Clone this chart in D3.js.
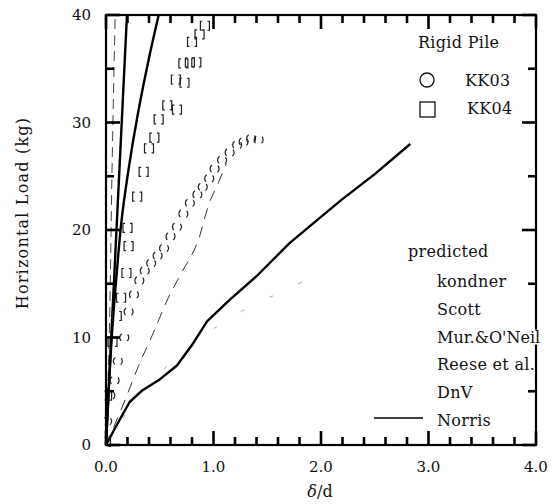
<!DOCTYPE html>
<html>
<head>
<meta charset="utf-8">
<script src="https://cdn.jsdelivr.net/npm/d3@7"></script>
<style>
  body { margin: 0; background: #fff; }
  text { font-family: "DejaVu Serif", "Liberation Serif", serif; fill: #111; }
</style>
</head>
<body>
<svg id="chart" width="554" height="504"></svg>
<script>
// ---- axis ticks ----
const xMajorTicks = [0, 1, 2, 3, 4];
const xTickLabels = ["0.0", "1.0", "2.0", "3.0", "4.0"];
const yMajorTicks = [0, 10, 20, 30, 40];
const yTickLabels = ["0", "10", "20", "30", "40"];
const xMinorTicks = [0.2, 0.4, 0.6, 0.8, 1.2, 1.4, 1.6, 1.8, 2.2, 2.4, 2.6, 2.8, 3.2, 3.4, 3.6, 3.8];
const yMinorTicks = [5, 15, 25, 35];

// ---- measured load tests (δ/d, load kg) ----
const kk03X = [0.00, 0.01, 0.04, 0.08, 0.11, 0.17, 0.21, 0.26, 0.31, 0.36, 0.42, 0.48, 0.54, 0.60,
               0.66, 0.72, 0.78, 0.85, 0.90, 0.96, 1.01, 1.08, 1.15, 1.22, 1.28, 1.35, 1.42];
const kk03Y = [0.2, 2.2, 4.6, 6.0, 7.8, 10.0, 12.4, 14.0, 15.3, 16.2, 16.9, 17.6, 18.3, 19.4,
               20.3, 21.5, 22.5, 23.3, 24.0, 24.8, 25.7, 26.5, 27.2, 27.9, 28.2, 28.5, 28.4];

const kk04X = [0.00, 0.01, 0.06, 0.10, 0.14, 0.19, 0.21, 0.20, 0.29, 0.35, 0.40, 0.45, 0.49,
               0.57, 0.66, 0.65, 0.73, 0.72, 0.78, 0.84, 0.80, 0.87, 0.92];
const kk04Y = [0.3, 4.6, 9.6, 12.0, 13.7, 16.0, 18.5, 20.2, 23.1, 25.4, 27.6, 28.6, 30.3,
               31.6, 31.2, 34.0, 33.7, 35.5, 35.6, 35.6, 37.5, 38.2, 39.0];

// ---- predicted curves ----
const kondnerX = [0, 0.03, 0.06, 0.10, 0.146, 0.20, 0.30, 0.40, 0.49];
const kondnerY = [0, 6, 11, 16, 21, 25, 31, 36, 40];

const scottX = [0, 0.195];
const scottY = [0, 40];

const murX = [0, 0.03, 0.055, 0.085];
const murY = [0, 10, 25, 40];

const reeseX = [0, 0.3, 0.7, 1.0, 1.4, 1.65, 1.9];
const reeseY = [0, 4.5, 8.5, 10.8, 13.2, 14.3, 15.6];

const dnvX = [0, 0.19, 0.30, 0.43, 0.58, 0.69, 0.87, 0.95, 1.05, 1.12];
const dnvY = [0, 4.5, 7.3, 10.2, 13.7, 15.8, 19.4, 22.2, 24.5, 26.2];

const norrisX = [0, 0.07, 0.13, 0.22, 0.34, 0.50, 0.66, 0.80, 0.94, 1.15, 1.40, 1.71, 2.19, 2.50, 2.83];
const norrisY = [0, 1.3, 2.4, 4.0, 5.1, 6.1, 7.4, 9.3, 11.5, 13.5, 15.7, 18.8, 22.8, 25.2, 28.0];

const predictedNames = ["kondner", "Scott", "Mur.&O'Neil", "Reese et al.", "DnV", "Norris"];

// ---- layout ----
const svg = d3.select("#chart");
const x = d3.scaleLinear().domain([0, 4]).range([106, 536]);
const y = d3.scaleLinear().domain([0, 40]).range([445, 15]);
const zip = (xs, ys) => xs.map((v, i) => [v, ys[i]]);

svg.append("clipPath").attr("id", "clip")
  .append("rect").attr("x", 104).attr("y", 14).attr("width", 434).attr("height", 433);

const straight = d3.line().x(d => x(d[0])).y(d => y(d[1])).curve(d3.curveLinear);
const smoothX = d3.line().x(d => x(d[0])).y(d => y(d[1])).curve(d3.curveMonotoneX);
const smoothY = d3.line().x(d => x(d[0])).y(d => y(d[1])).curve(d3.curveMonotoneY);

const curves = [
  { pts: zip(reeseX, reeseY), gen: smoothX, stroke: "#aaa", width: 1, dash: "4 28" },
  { pts: zip(dnvX, dnvY), gen: smoothX, stroke: "#333", width: 1, dash: "11 8" },
  { pts: zip(murX, murY), gen: smoothY, stroke: "#444", width: 1, dash: "10 6" },
  { pts: zip(scottX, scottY), gen: straight, stroke: "#000", width: 2.4, dash: null },
  { pts: zip(kondnerX, kondnerY), gen: smoothY, stroke: "#000", width: 2.4, dash: null },
  { pts: zip(norrisX, norrisY), gen: straight, stroke: "#000", width: 2.4, dash: null }
];

const cg = svg.append("g").attr("clip-path", "url(#clip)");
curves.forEach(c => {
  cg.append("path")
    .attr("d", c.gen(c.pts))
    .attr("fill", "none")
    .attr("stroke", c.stroke)
    .attr("stroke-width", c.width)
    .attr("stroke-linejoin", "round")
    .attr("stroke-dasharray", c.dash);
});

// measured markers: open circles (KK03) and open squares (KK04), thin worn outlines
const markerR = 4.5;
const circ = 2 * Math.PI * markerR;
const arcDash = [50, 80, 100, 80, 50].map(a => circ * a / 360).join(" ");
cg.append("g").selectAll("circle")
  .data(zip(kk03X, kk03Y))
  .join("circle")
  .attr("cx", d => x(d[0]))
  .attr("cy", d => y(d[1]))
  .attr("r", markerR)
  .attr("fill", "none")
  .attr("stroke", "#222")
  .attr("stroke-width", 1.2)
  .attr("stroke-dasharray", arcDash);

const sq = 9;
cg.append("g").selectAll("path")
  .data(zip(kk04X, kk04Y))
  .join("path")
  .attr("d", d => `M${x(d[0]) - sq / 2},${y(d[1]) - sq / 2}h${sq}v${sq}h${-sq}z`)
  .attr("fill", "none")
  .attr("stroke", "#222")
  .attr("stroke-width", 1.2)
  .attr("stroke-dasharray", "2 5 13 5 11");

// ---- frame with inward ticks on all four sides ----
const x0 = x(0), x1 = x(4), y0 = y(0), y1 = y(40);
const frame = svg.append("g").attr("class", "frame");
function addTicksX(values, len) {
  values.forEach(v => {
    frame.append("rect").attr("x", x(v) - 1.3).attr("y", y0 - len).attr("width", 2.6).attr("height", len).attr("fill", "black");
    frame.append("rect").attr("x", x(v) - 1.3).attr("y", y1).attr("width", 2.6).attr("height", len).attr("fill", "black");
  });
}
function addTicksY(values, len) {
  values.forEach(v => {
    frame.append("rect").attr("x", x0).attr("y", y(v) - 1.3).attr("width", len).attr("height", 2.6).attr("fill", "black");
    frame.append("rect").attr("x", x1 - len).attr("y", y(v) - 1.3).attr("width", len).attr("height", 2.6).attr("fill", "black");
  });
}
addTicksX(xMajorTicks, 14);
addTicksX(xMinorTicks, 8);
addTicksY(yMajorTicks, 14);
addTicksY(yMinorTicks, 8);
frame.append("rect")
  .attr("x", x0).attr("y", y1)
  .attr("width", x1 - x0).attr("height", y0 - y1)
  .attr("fill", "none").attr("stroke", "black").attr("stroke-width", 2.2);

// tick labels
svg.append("g").selectAll("text")
  .data(xMajorTicks)
  .join("text")
  .attr("x", d => x(d))
  .attr("y", 472)
  .attr("text-anchor", "middle")
  .attr("font-size", 15)
  .text((d, i) => xTickLabels[i]);

svg.append("g").selectAll("text")
  .data(yMajorTicks)
  .join("text")
  .attr("x", 91)
  .attr("y", d => y(d))
  .attr("dy", "0.36em")
  .attr("text-anchor", "end")
  .attr("font-size", 15)
  .text((d, i) => yTickLabels[i]);

// axis titles
svg.append("text")
  .attr("x", 320).attr("y", 497)
  .attr("text-anchor", "middle")
  .attr("font-size", 16)
  .html('<tspan font-style="italic">δ</tspan>/d');

svg.append("text")
  .attr("transform", "translate(28,213) rotate(-90)")
  .attr("text-anchor", "middle")
  .attr("font-size", 16)
  .attr("letter-spacing", 1.2)
  .text("Horizontal Load (kg)");

// ---- legend ----
const lg = svg.append("g").attr("font-size", 16).attr("letter-spacing", 0.3);
lg.append("text").attr("x", 418).attr("y", 48).text("Rigid Pile");
lg.append("circle").attr("cx", 427).attr("cy", 80).attr("r", 7)
  .attr("fill", "none").attr("stroke", "#111").attr("stroke-width", 1.3);
lg.append("text").attr("x", 465).attr("y", 86).text("KK03");
lg.append("rect").attr("x", 420).attr("y", 102).attr("width", 15).attr("height", 15)
  .attr("fill", "none").attr("stroke", "#111").attr("stroke-width", 1.3);
lg.append("text").attr("x", 467).attr("y", 114).text("KK04");

lg.append("text").attr("x", 408).attr("y", 257).text("predicted");
predictedNames.forEach((name, i) => {
  const by = 287 + i * 27.8;
  const t = lg.append("text").attr("x", 437).attr("y", by).text(name);
  if (name === "Mur.&O'Neil") {
    t.attr("letter-spacing", 0);
    const b = t.node().getBBox();
    lg.insert("rect", "text")
      .attr("x", b.x).attr("y", b.y + 2).attr("width", b.width).attr("height", b.height - 4)
      .attr("fill", "#fff");
  }
});
lg.append("line")
  .attr("x1", 374).attr("x2", 423).attr("y1", 418).attr("y2", 418)
  .attr("stroke", "#000").attr("stroke-width", 1.6);
</script>
</body>
</html>
